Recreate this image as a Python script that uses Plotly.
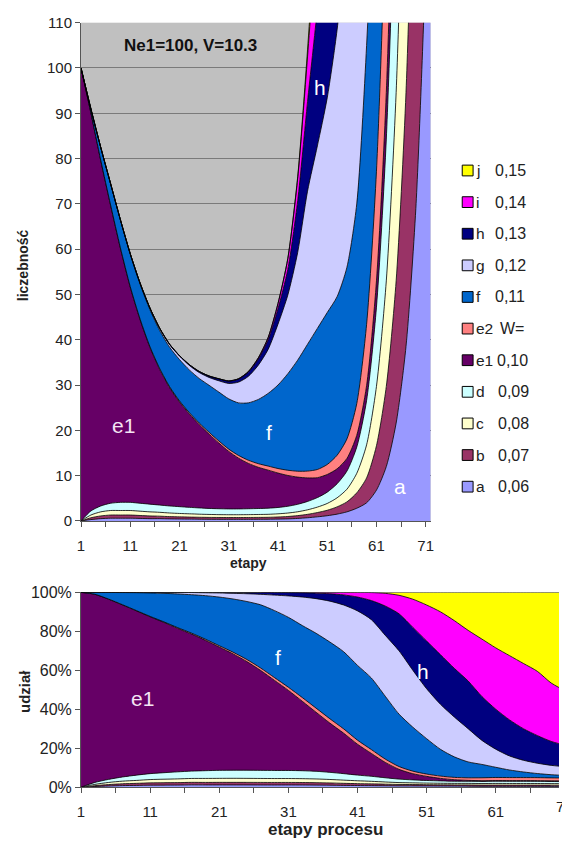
import plotly.graph_objects as go

W, H = 562, 850

# Process stages (every second stage, plus the last one)
stages = [1, 3, 5, 7, 9, 11, 13, 15, 17, 19, 21, 23, 25, 27, 29, 31, 33, 35, 37, 39,
          41, 43, 45, 47, 49, 51, 53, 55, 57, 59, 61, 63, 65, 67, 69, 71, 72]

# Counts of each variant per stage (stacked bottom -> top: a .. j)
a = [0, 0.3, 0.5, 0.6, 0.6, 0.6, 0.55, 0.5, 0.5, 0.45, 0.42, 0.4, 0.38, 0.36, 0.35, 0.35, 0.35, 0.35, 0.36, 0.37,
     0.4, 0.45, 0.55, 0.7, 0.9, 1.15, 1.5, 2.0, 2.8, 4.0, 6.8, 12, 21.6, 38.5, 69, 123, 164]
b = [0, 0.4, 0.6, 0.7, 0.7, 0.7, 0.65, 0.6, 0.55, 0.5, 0.48, 0.45, 0.43, 0.42, 0.41, 0.4, 0.4, 0.41, 0.42, 0.43,
     0.47, 0.53, 0.62, 0.75, 0.95, 1.2, 1.6, 2.2, 3.4, 5.5, 9.8, 17.7, 31.4, 56.1, 100, 179, 239]
c = [0, 0.6, 0.9, 1.0, 1.0, 1.0, 0.95, 0.9, 0.85, 0.8, 0.75, 0.72, 0.68, 0.65, 0.63, 0.62, 0.62, 0.63, 0.64, 0.66,
     0.7, 0.76, 0.85, 1.0, 1.2, 1.5, 2.0, 2.8, 4.3, 7.3, 13.1, 23.3, 41.6, 74.4, 133, 237, 317]
d = [0, 0.9, 1.3, 1.6, 1.8, 1.8, 1.75, 1.7, 1.6, 1.55, 1.5, 1.43, 1.38, 1.33, 1.3, 1.28, 1.28, 1.3, 1.32, 1.35,
     1.4, 1.5, 1.65, 1.85, 2.1, 2.5, 3.1, 4.0, 5.8, 9.8, 17.5, 31.3, 55.9, 100, 178, 318, 425]
e1 = [100, 87.9, 76.3, 65.8, 56.1, 47.5, 40.5, 34.6, 29.9, 26.1, 23.1, 20.6, 18.4, 16.4, 14.5, 12.7, 11.2, 10.0, 9.1, 8.4,
      7.6, 6.8, 6.0, 5.2, 4.4, 3.9, 3.3, 2.8, 2.6, 3.3, 5.8, 10.3, 18.5, 33, 59, 105, 141]
e2 = [0, 0.02, 0.05, 0.08, 0.1, 0.12, 0.15, 0.18, 0.2, 0.22, 0.25, 0.3, 0.35, 0.4, 0.45, 0.5, 0.6, 0.7, 0.8, 0.9,
      1.0, 1.15, 1.3, 1.5, 1.8, 2.2, 3.0, 4.3, 7.0, 13.5, 24.2, 43.4, 77, 138, 247, 438, 584]
f = [0, 0.88, 2.81, 4.65, 6.1, 7.1, 7.69, 8.14, 8.39, 8.72, 9.12, 9.43, 9.83, 10.39, 10.8, 11.1, 11.61, 12.68, 14.18, 16.04,
     18.43, 21.31, 24.53, 28.0, 31.15, 33.55, 35.0, 37.9, 44.1, 61.6, 80.9, 108.4, 144, 190, 270, 400, 508]
g = [0, 0, 0.04, 0.07, 0.1, 0.18, 0.26, 0.36, 0.47, 0.58, 0.77, 1.0, 1.32, 1.73, 2.5, 3.4, 4.59, 5.87, 7.56, 9.72,
     13.44, 17.38, 23.78, 33.8, 40.3, 47.4, 58.9, 73.6, 92, 111, 144, 201.6, 300, 477, 792, 1350, 1804]
h = [0, 0, 0, 0, 0, 0, 0, 0.02, 0.04, 0.08, 0.11, 0.17, 0.23, 0.32, 0.44, 0.53, 0.69, 0.93, 1.37, 2.1,
     3.41, 5.68, 11.4, 19.76, 30.4, 45.35, 65.0, 90.0, 132.3, 202.5, 318, 518, 810, 1278, 2030, 3300, 4223]
i = [0, 0, 0, 0, 0, 0, 0, 0, 0, 0, 0, 0, 0, 0, 0, 0.03, 0.06, 0.13, 0.25, 0.53,
     1.15, 2.38, 4.94, 9.88, 19.97, 34.23, 56.1, 88.2, 140.4, 265.5, 488.3, 924, 1675, 2970, 4950, 8400, 11070]
j = [0, 0, 0, 0, 0, 0, 0, 0, 0, 0, 0, 0, 0, 0, 0, 0, 0, 0, 0, 0,
     0, 0.06, 0.38, 1.56, 4.83, 12.0, 25.5, 52.2, 105.3, 216, 442, 910, 1825, 3645, 7673, 15150, 21525]

names = ['a', 'b', 'c', 'd', 'e1', 'e2', 'f', 'g', 'h', 'i', 'j']
series = [a, b, c, d, e1, e2, f, g, h, i, j]
colors = ['#9999FF', '#993366', '#FFFFCC', '#CCFFFF', '#660066', '#FF8080',
          '#0066CC', '#CCCCFF', '#000080', '#FF00FF', '#FFFF00']
legend_text = {'j': '0,15', 'i': '0,14', 'h': '0,13', 'g': '0,12', 'f': '0,11',
               'e2': 'W=', 'e1': '0,10', 'd': '0,09', 'c': '0,08', 'b': '0,07', 'a': '0,06'}

x_ticks = [1, 6, 11, 16, 21, 26, 31, 36, 41, 46, 51, 56, 61, 66, 71]
x_ticktext = ['1', '', '11', '', '21', '', '31', '', '41', '', '51', '', '61', '', '71']
share_ticks = [0, 20, 40, 60, 80, 100]
share_ticktext = ['0%', '20%', '40%', '60%', '80%', '100%']

FONT = 'Liberation Sans, Arial, sans-serif'
TXT = '#222222'


def fx(px):
    return px / W


def fy(py):
    return 1 - py / H


fig = go.Figure()

# Upper chart: stacked counts
for name, vals, col in zip(names, series, colors):
    fig.add_trace(go.Scatter(
        x=stages, y=vals, name=name, mode='lines', stackgroup='count',
        line=dict(color='black', width=0.8, shape='spline', smoothing=0.7),
        fillcolor=col, xaxis='x', yaxis='y', showlegend=False, hoverinfo='skip'))

# Lower chart: the same counts as shares of the whole
for k, (name, vals, col) in enumerate(zip(names, series, colors)):
    fig.add_trace(go.Scatter(
        x=stages, y=vals, name=name, mode='lines', stackgroup='share',
        groupnorm='percent' if k == 0 else None,
        line=dict(color='black', width=0.8, shape='spline', smoothing=0.7),
        fillcolor=col, xaxis='x2', yaxis='y2', showlegend=False, hoverinfo='skip'))

axis_common = dict(ticks='outside', ticklen=5, tickcolor='#555555', showline=True,
                   linecolor='#555555', linewidth=1, zeroline=False,
                   tickfont=dict(family=FONT, size=15, color=TXT))

fig.update_layout(
    width=W, height=H,
    margin=dict(l=0, r=0, t=0, b=0),
    paper_bgcolor='white',
    plot_bgcolor='#C0C0C0',
    showlegend=False,
    xaxis=dict(domain=[fx(78), fx(432)], range=[1, 72], tickvals=x_ticks, ticktext=x_ticktext,
               showgrid=False, anchor='y', ticklabelstandoff=6, **axis_common),
    yaxis=dict(domain=[fy(523), fy(14)], range=[0, 110], dtick=10, showgrid=True,
               gridcolor='#7a7a7a', gridwidth=1, anchor='x', **axis_common),
    xaxis2=dict(domain=[fx(78), 1.0], range=[1, 1 + (562 - 78) / 7.0], tickvals=x_ticks,
                ticktext=x_ticktext, showgrid=False, anchor='y2', ticklabelstandoff=6, **axis_common),
    yaxis2=dict(domain=[fy(795), fy(596)], range=[0, 100], tickvals=share_ticks,
                ticktext=share_ticktext, showgrid=False, anchor='x2',
                **{k: v for k, v in axis_common.items() if k != 'tickfont'},
                tickfont=dict(family=FONT, size=16, color=TXT)),
)

ann = []


def label(px, py, text, size, color=TXT, bold=False, angle=0, xanchor='center'):
    ann.append(dict(x=fx(px), y=fy(py), xref='paper', yref='paper', text=f'<b>{text}</b>' if bold else text,
                    showarrow=False, textangle=angle, xanchor=xanchor, yanchor='middle',
                    font=dict(family=FONT, size=size, color=color)))


# Titles
label(189, 37, 'Ne1=100, V=10.3', 17, color='#111111', bold=True)
label(20, 262, 'liczebność', 14, bold=True, angle=-90)
label(248, 566, 'etapy', 14, bold=True)
label(20, 697, 'udział', 15, bold=True, angle=-90)
label(326, 838, 'etapy procesu', 17, bold=True)

# Last tick label of the lower axis, running past the page edge
label(568, 815, '71', 15)

# Band labels
label(320, 80, 'h', 21, color='white')
label(121, 425, 'e1', 21, color='#F4E4F4')
label(268, 433, 'f', 21, color='white')
label(401, 488, 'a', 21, color='white')
label(140, 704, 'e1', 21, color='#F4E4F4')
label(277, 663, 'f', 21, color='white')
label(424, 677, 'h', 21, color='white')

# Legend, top entry first
shapes = []
value_x = {'j': 495, 'i': 495, 'h': 495, 'g': 495, 'f': 495, 'e2': 500,
           'e1': 497, 'd': 498, 'c': 498, 'b': 498, 'a': 498}
for row, (name, col) in enumerate(reversed(list(zip(names, colors)))):
    yc = 165 + 32.3 * row
    shapes.append(dict(type='rect', xref='paper', yref='paper',
                       x0=fx(464), x1=fx(475), y0=fy(yc + 5.5), y1=fy(yc - 5.5),
                       fillcolor=col, line=dict(color='black', width=1)))
    label(476, yc, name, 15.5, xanchor='left')
    label(value_x[name], yc, legend_text[name], 16, xanchor='left')

fig.update_layout(annotations=ann, shapes=shapes)

fig.write_html('out.html')
